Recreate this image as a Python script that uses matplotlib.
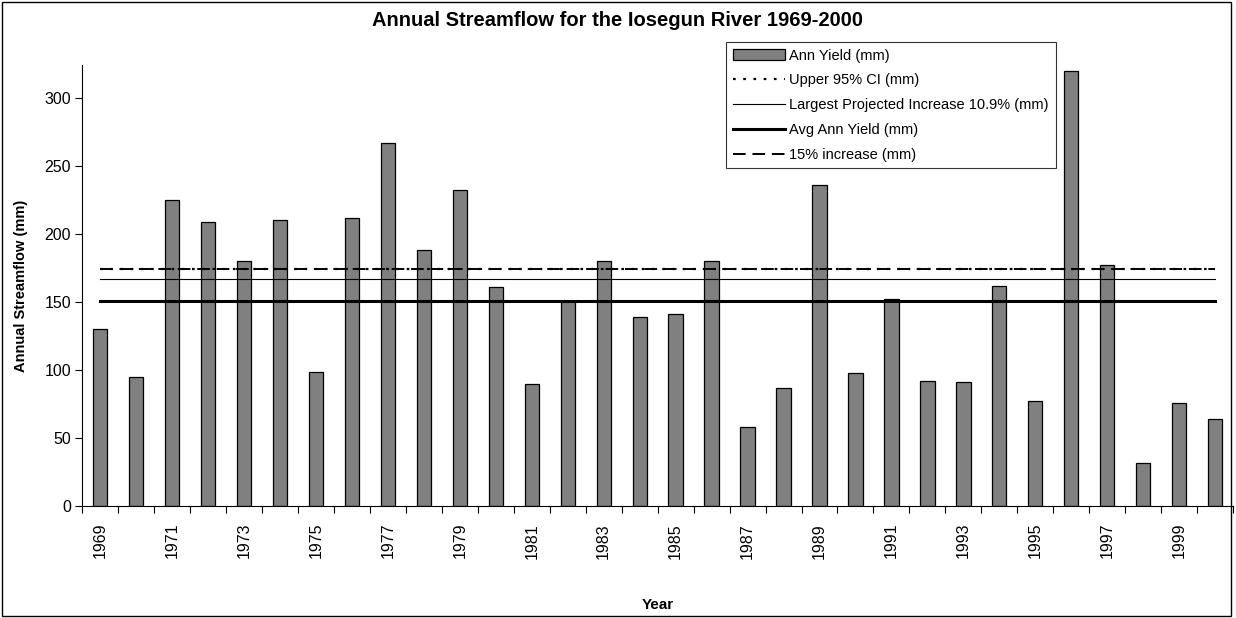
import matplotlib
matplotlib.use("Agg")
import matplotlib.pyplot as plt
import numpy as np
from matplotlib.patches import Rectangle

plt.rcParams['font.family'] = ['Liberation Sans', 'DejaVu Sans']

years = list(range(1969, 2001))
ann_yield = [130, 95, 225, 209, 180, 210, 99, 212, 267, 188, 232,
             161, 90, 151, 180, 139, 141, 180, 58, 87, 236, 98,
             152, 92, 91, 162, 77, 320, 177, 32, 76, 64]
avg_yield = 150.7
upper_ci = 174.4
largest_increase = 166.9   # +10.9%
increase_15 = 173.9

fig = plt.figure(figsize=(12.36, 6.18), dpi=100)
ax = fig.add_axes([0.0666, 0.1807, 0.931, 0.714])

x = np.arange(len(years))
n = len(years)

bars = ax.bar(x, ann_yield, width=0.4, color='#808080', edgecolor='black',
              linewidth=0.9, zorder=2)
l_ci, = ax.plot(x, [upper_ci] * n, color='black', linestyle=(0, (1.2, 3.4)), lw=1.6, zorder=3)
l_big, = ax.plot(x, [largest_increase] * n, color='black', lw=0.8, zorder=3)
l_avg, = ax.plot(x, [avg_yield] * n, color='black', lw=2.2, zorder=3)
l_15, = ax.plot(x, [increase_15] * n, color='black', linestyle=(0, (6.5, 3.5)), lw=1.4, zorder=3)

ax.set_xlim(-0.5, n - 0.5)
ax.set_ylim(0, 324)
ax.set_yticks([0, 50, 100, 150, 200, 250, 300])

# ticks at category boundaries, labels every other year at centres
ax.set_xticks(np.arange(-0.5, n, 1.0))
ax.set_xticklabels([])
ax.set_xticks(x[::2], minor=True)
ax.set_xticklabels([str(y) for y in years[::2]], minor=True, rotation=90)
ax.tick_params(axis='x', which='minor', length=0, pad=12, labelsize=11.5)
ax.tick_params(axis='x', which='major', length=5, direction='out', width=0.8)
ax.tick_params(axis='y', length=5, direction='out', width=0.8, labelsize=11.5, pad=3)

ax.spines['top'].set_visible(False)
ax.spines['right'].set_visible(False)
ax.spines['left'].set_linewidth(0.8)
ax.spines['bottom'].set_linewidth(0.8)

ax.set_xlabel('Year', fontsize=11, fontweight='bold', labelpad=28)
ax.set_ylabel('Annual Streamflow (mm)', fontsize=10.5, fontweight='bold', labelpad=12)
fig.suptitle('Annual Streamflow for the Iosegun River 1969-2000',
             fontsize=14.5, fontweight='bold', y=0.983)

leg = ax.legend([bars, l_ci, l_big, l_avg, l_15],
                ['Ann Yield (mm)', 'Upper 95% CI (mm)',
                 'Largest Projected Increase 10.9% (mm)',
                 'Avg Ann Yield (mm)', '15% increase (mm)'],
                loc='upper left', bbox_to_anchor=(726 / 1236, 1 - 42 / 618),
                bbox_transform=fig.transFigure, fontsize=10.5, frameon=True,
                fancybox=False, edgecolor='black', handlelength=3.6, handleheight=0.7,
                labelspacing=0.74, borderpad=0.45, handletextpad=0.3, borderaxespad=0)
leg.get_frame().set_linewidth(0.8)
leg.set_zorder(5)

# outer chart border
fig.patches.append(Rectangle((0.002, 0.004), 0.994, 0.992, transform=fig.transFigure,
                             fill=False, edgecolor='black', linewidth=1))

fig.savefig('out.png', dpi=100)
